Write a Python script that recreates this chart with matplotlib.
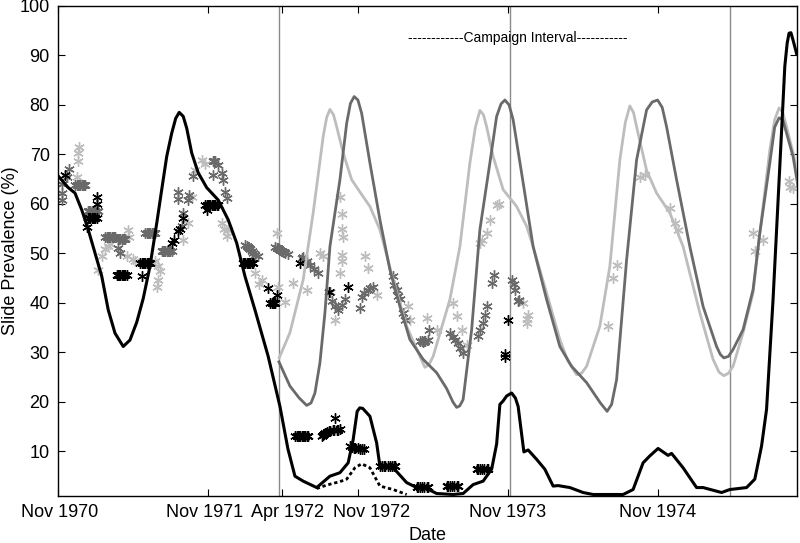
import matplotlib
matplotlib.use("Agg")
import matplotlib.pyplot as plt
import matplotlib.transforms as mtransforms
import numpy as np

plt.rcParams['font.family'] = ['Liberation Sans', 'DejaVu Sans']

# x in months since Nov 1970
tick_pos = [0, 12, 17.9, 24, 36, 48]
tick_labels = ['Nov 1970', 'Nov 1971', 'Apr 1972', 'Nov 1972', 'Nov 1973', 'Nov 1974']
campaign_lines = [17.7, 36.2, 53.8]

# model curve (black solid)
black_m = [0, 0.82, 1.36, 1.90, 2.42, 2.96, 3.50, 4.02, 4.56, 5.22, 5.76, 6.30, 6.82, 7.36,
           7.90, 8.30, 8.70, 9.10, 9.42, 9.70, 10.02, 10.30, 10.70, 11.22, 11.90, 12.82, 13.62,
           14.30, 14.96, 15.76, 16.82, 17.76, 18.40, 18.96, 19.62, 20.70, 21.76, 22.56, 23.22,
           23.62, 23.94, 24.15, 24.38, 24.96, 25.50, 25.76, 26.82, 27.90, 28.70, 29.50, 30.30, 31.62,
           32.42, 33.22, 34.02, 34.70, 35.10, 35.36, 35.62, 35.90, 36.30, 36.60, 36.82, 37.28, 37.62,
           38.30, 38.96, 39.62, 40.02, 40.96, 42.02, 42.82, 45.22, 46.02, 46.82, 47.36, 48.02,
           48.82, 49.10, 50.02, 51.10, 51.62, 53.10, 53.76, 55.10, 55.76, 56.30, 56.70, 57.22,
           57.76, 58.16, 58.35, 58.50, 58.65, 58.82, 59.10]
black_v = [65.7, 63.3, 62.2, 58.8, 54.8, 50.1, 45.4, 38.6, 33.9, 31.2, 32.5, 36.1, 40.9, 47.4,
           56.1, 62.9, 69.6, 74.3, 77.3, 78.5, 77.7, 75.3, 70.3, 66.3, 63.3, 60.8, 56.8,
           52.1, 45.4, 38.6, 29.2, 19.1, 10.5, 5.0, 4.0, 2.7, 5.0, 5.7, 7.7,
           12.4, 18.1, 18.8, 18.7, 17.1, 11.7, 7.0, 6.7, 3.7, 2.7, 2.5, 1.5, 1.3,
           1.5, 3.3, 4.0, 6.4, 11.5, 19.5, 20.2, 21.2, 21.8, 20.8, 19.1, 9.9, 10.3,
           8.4, 6.4, 3.0, 3.1, 2.7, 1.7, 1.3, 1.3, 2.3, 7.7, 9.1, 10.6,
           9.2, 9.6, 6.7, 2.7, 2.7, 1.7, 2.3, 2.7, 4.4, 11.1, 18.5, 40.7,
           67.6, 87.8, 92.5, 94.5, 94.6, 93.1, 90.4]

# black dotted curve
dot_m = [20.70, 21.50, 22.56, 23.10, 23.76, 24.30, 24.96, 25.76, 26.82, 27.90]
dot_v = [2.5, 3.2, 3.9, 4.4, 6.7, 7.5, 6.7, 3.0, 2.3, 1.3]

# light grey curve
light_m = [17.70, 18.56, 19.62, 20.42, 21.22, 21.50, 21.76, 22.05, 22.30, 22.82, 23.50, 24.30,
           24.96, 25.76, 26.82, 27.90, 28.96, 29.36, 29.70, 30.02, 31.36, 32.16, 32.96, 33.40,
           33.76, 34.05, 34.30, 34.82, 35.62, 36.70, 37.50, 38.02, 39.10, 40.16, 40.80, 41.50,
           41.90, 42.30, 43.36, 44.16, 44.96, 45.40, 45.76, 46.05, 46.30, 47.10, 47.90, 48.96,
           50.02, 51.36, 52.42, 52.90, 53.28, 53.65, 54.02, 54.82, 55.62, 56.16, 56.96, 57.35,
           57.70, 58.00, 58.30, 58.82, 59.22]
light_v = [28.9, 34.0, 44.7, 58.2, 73.6, 77.5, 79.1, 78.0, 75.6, 70.3, 64.9, 61.9,
           59.5, 54.8, 44.7, 35.3, 29.2, 27.0, 27.6, 29.2, 40.7, 51.4, 68.3, 75.5,
           78.9, 78.0, 75.6, 69.6, 62.9, 59.5, 55.5, 51.4, 42.0, 32.6, 28.3, 25.5,
           25.8, 27.2, 35.3, 47.4, 68.9, 76.5, 79.8, 78.5, 75.6, 66.8, 62.2, 58.2,
           51.4, 38.0, 28.6, 26.0, 25.3, 25.8, 27.2, 34.0, 42.0, 54.1, 70.9, 77.0,
           79.4, 78.5, 75.6, 70.3, 65.5]

# dark grey curve
dark_m = [17.68, 18.56, 19.30, 19.90, 20.25, 20.56, 20.96, 21.36, 21.76, 22.56, 23.10, 23.40,
          23.70, 24.00, 24.30, 24.96, 25.76, 26.56, 27.36, 28.16, 29.22, 30.30, 31.10, 31.60,
          31.90, 32.15, 32.42, 33.10, 33.76, 34.56, 35.10, 35.45, 35.76, 36.10, 36.42, 37.22,
          38.02, 39.10, 40.16, 41.10, 42.30, 43.40, 43.94, 44.30, 44.70, 45.50, 46.30, 47.10,
          47.55, 47.98, 48.35, 48.70, 49.50, 50.56, 51.62, 52.70, 53.00, 53.28, 53.65, 54.02,
          54.82, 55.62, 56.16, 56.96, 57.35, 57.70, 58.00, 58.30, 58.82, 59.22]
dark_v = [28.1, 23.2, 20.8, 19.3, 19.8, 21.8, 27.9, 38.0, 51.4, 64.9, 76.3, 80.3,
          81.7, 81.0, 78.3, 68.3, 56.8, 46.7, 39.3, 32.6, 28.6, 25.9, 22.7, 20.0,
          18.9, 19.2, 20.5, 34.6, 54.8, 68.3, 77.7, 80.2, 81.0, 80.0, 77.0, 64.3,
          51.4, 40.7, 31.2, 27.2, 23.9, 19.8, 18.1, 19.5, 24.5, 48.7, 68.9, 79.0,
          80.6, 81.0, 79.5, 75.6, 64.9, 51.4, 39.3, 31.2, 29.6, 28.9, 29.2, 30.6,
          34.6, 42.7, 54.1, 68.3, 75.5, 77.4, 77.0, 74.3, 69.6, 63.5]

# observed data (asterisks)
obs_black_m = [0.56, 2.3, 2.4, 2.5, 2.6, 2.7, 2.8, 2.9, 3.0, 3.1, 3.1, 3.1,
               4.7, 4.8, 4.9, 5.0, 5.1, 5.2, 5.3, 5.4, 5.5,
               6.6, 6.7, 6.8, 6.9, 7.0, 7.1, 7.2, 7.3, 7.4, 6.7,
               9.1, 9.3, 9.6, 9.8, 10.0,
               11.8, 11.9, 12.0, 12.1, 12.2, 12.3, 12.4, 12.5, 12.6, 12.7, 12.8, 11.9,
               14.8, 14.9, 15.0, 15.1, 15.2, 15.3, 15.4, 15.5, 15.6,
               16.8, 17.5, 17.0, 17.1, 17.2, 17.3, 17.4,
               19.0, 19.1, 19.2, 19.3, 19.4, 19.5, 19.6, 19.7, 19.8, 19.9, 20.0,
               21.1, 21.2, 21.3, 21.4, 21.5, 21.7, 21.8, 22.0, 22.1, 22.3, 22.4, 22.6, 22.2,
               23.4, 23.5, 23.7, 23.8, 24.0, 24.2, 24.3, 24.5,
               25.8, 25.9, 26.1, 26.2, 26.4, 26.6, 26.7, 26.9, 27.0,
               28.7, 28.8, 29.0, 29.1, 29.3, 29.5, 29.6,
               31.1, 31.2, 31.4, 31.5, 31.7, 31.9, 32.0,
               33.5, 33.6, 33.8, 33.9, 34.1, 34.3, 34.4,
               35.8, 35.8, 36.0, 19.4, 21.7, 23.2]
obs_black_v = [65.9, 55.4, 57.1, 57.1, 57.1, 57.1, 57.1, 57.1, 57.1, 57.1, 61.5, 60.0,
               45.7, 45.7, 45.7, 45.7, 45.7, 45.7, 45.7, 45.7, 45.7,
               48.1, 48.1, 48.1, 48.1, 48.1, 48.1, 48.1, 48.1, 48.1, 45.4,
               52.1, 52.8, 54.5, 55.0, 57.1,
               59.8, 59.8, 59.8, 59.8, 59.8, 59.8, 59.8, 59.8, 59.8, 59.8, 59.8, 58.8,
               48.0, 48.0, 48.0, 48.0, 48.0, 48.0, 48.0, 48.0, 48.0,
               43.0, 41.7, 39.9, 39.9, 39.9, 39.9, 39.9,
               13.1, 13.1, 13.1, 13.1, 13.1, 13.1, 13.1, 13.1, 13.1, 13.1, 13.1,
               13.1, 13.3, 13.6, 13.8, 14.0, 14.1, 14.2, 14.3, 14.4, 14.4, 14.4, 14.6, 16.8,
               11.0, 10.9, 10.7, 10.7, 10.6, 10.5, 10.5, 10.5,
               7.0, 7.0, 7.0, 7.0, 7.0, 7.0, 7.0, 7.0, 7.0,
               2.9, 2.9, 2.9, 2.9, 2.9, 2.9, 2.9,
               3.1, 3.1, 3.1, 3.1, 3.1, 3.1, 3.1,
               6.5, 6.5, 6.5, 6.5, 6.5, 6.5, 6.5,
               29.6, 29.0, 36.6, 48.1, 42.3, 43.3]

obs_dark_m = [0.3, 0.3, 0.3, 0.9, 0.7,
              1.4, 1.5, 1.6, 1.7, 1.8, 1.9, 2.0, 2.1, 2.2,
              2.4, 2.5, 2.6, 2.7, 2.8, 2.9, 3.0, 3.1, 3.2,
              3.8, 3.9, 4.0, 4.1, 4.2, 4.3, 4.4, 4.5, 4.6,
              4.8, 4.9, 5.0, 5.1, 5.2, 5.3, 5.4, 4.8, 5.0,
              7.0, 7.1, 7.2, 7.3, 7.4, 7.5, 7.6, 7.7, 7.8,
              8.3, 8.4, 8.5, 8.6, 8.7, 8.8, 8.9, 9.0, 9.1,
              9.6, 9.6, 10.0, 9.9, 10.4, 10.5, 10.8,
              12.4, 12.5, 12.6, 12.8, 13.1, 13.2, 13.4, 13.5, 12.4,
              15.0, 15.1, 15.2, 15.3, 15.4, 15.5, 15.6, 15.8, 16.0,
              17.4, 17.5, 17.6, 17.7, 17.8, 17.9, 18.0, 18.2, 18.4,
              19.5, 19.6, 19.9, 20.2, 20.5, 20.8,
              21.8, 21.9, 22.2, 22.4, 22.7, 23.0,
              24.2, 24.3, 24.5, 24.8, 25.0, 25.2,
              26.8, 26.9, 27.1, 27.2, 27.4, 27.6, 27.8,
              29.0, 29.1, 29.2, 29.3, 29.4, 29.6, 29.7,
              31.4, 31.6, 31.8, 32.0, 32.2, 32.4,
              33.6, 33.8, 34.0, 34.2, 34.3,
              34.7, 34.9,
              36.3, 36.5, 36.6, 36.8, 36.9]
obs_dark_v = [62.3, 60.8, 64.0, 67.0, 65.5,
              63.9, 63.9, 63.9, 63.9, 63.9, 63.9, 63.9, 63.9, 63.9,
              58.5, 58.5, 58.5, 58.5, 58.5, 58.5, 58.5, 58.5, 58.5,
              53.3, 53.3, 53.3, 53.3, 53.3, 53.3, 53.3, 53.3, 53.3,
              52.9, 52.9, 52.9, 52.9, 52.9, 52.9, 52.9, 51.1, 50.0,
              54.1, 54.1, 54.1, 54.1, 54.1, 54.1, 54.1, 54.1, 54.1,
              50.4, 50.4, 50.4, 50.4, 50.4, 50.4, 50.4, 50.4, 50.4,
              62.5, 60.9, 58.1, 55.6, 60.8, 61.9, 65.6,
              68.6, 68.6, 68.6, 67.8, 66.2, 64.9, 62.5, 61.2, 65.9,
              51.8, 51.6, 51.3, 51.0, 50.8, 50.4, 50.1, 49.7, 49.4,
              51.4, 51.2, 51.0, 50.8, 50.6, 50.4, 50.3, 50.1, 49.8,
              49.1, 49.3, 48.5, 47.6, 46.8, 46.0,
              42.3, 40.3, 39.3, 38.6, 39.5, 40.7,
              39.0, 41.3, 42.0, 42.7, 43.0, 43.3,
              45.4, 43.7, 42.7, 41.5, 40.7, 38.0, 36.6,
              32.4, 32.3, 32.2, 32.3, 32.4, 32.6, 34.5,
              33.9, 33.2, 32.5, 31.9, 30.9, 29.9,
              33.3, 34.6, 35.9, 37.5, 39.3,
              44.0, 45.7,
              44.7, 43.8, 42.7, 40.3, 40.5]

obs_light_m = [1.5, 1.6, 1.7, 1.6,
               3.2, 3.5, 3.8, 4.0, 4.2,
               5.5, 5.6, 5.7, 6.0, 6.2,
               7.8, 8.0, 8.0, 7.9, 8.2,
               10.0, 10.4, 10.7, 11.0, 11.5, 11.8,
               13.1, 13.6, 13.5, 13.3,
               15.8, 16.3, 16.1,
               17.5, 17.6, 18.2, 18.8, 19.9,
               21.0, 21.2, 22.2,
               22.6, 22.7, 22.7, 22.8, 22.7, 22.7, 22.6,
               24.6, 24.8, 25.5,
               28.0, 28.2, 29.5, 30.3,
               31.6, 31.9, 32.3, 32.7,
               33.9, 34.3, 33.8, 34.6, 35.1, 35.3,
               37.2, 37.6, 37.5, 37.5,
               44.4, 44.7, 44.0,
               47.0, 46.6,
               49.0, 49.4, 49.6,
               55.6, 55.8, 56.4,
               58.5, 58.6, 58.8]
obs_light_v = [65.5, 68.6, 71.6, 70.3,
               46.7, 49.4, 50.8, 51.6, 52.0,
               49.4, 54.8, 53.3, 48.8, 48.4,
               48.4, 47.4, 44.7, 43.3, 46.5,
               52.8, 56.1, 61.5, 66.9, 68.9, 68.0,
               56.1, 54.8, 53.5, 55.0,
               46.0, 44.7, 43.8,
               54.1, 43.3, 40.1, 44.0, 42.7,
               50.1, 49.5, 36.6,
               61.5, 58.0, 55.0, 53.4, 49.7, 48.4, 46.0,
               49.4, 47.1, 41.7,
               39.3, 36.6, 37.0, 34.6,
               40.0, 37.3, 34.6, 31.6,
               52.8, 54.1, 52.1, 56.8, 59.8, 60.0,
               40.0, 37.6, 36.7, 36.0,
               45.0, 47.7, 35.3,
               65.9, 65.5,
               59.2, 56.1, 54.8,
               54.1, 50.4, 52.8,
               64.6, 63.5, 63.2]

LIGHT = '#bdbdbd'
DARK = '#6a6a6a'

fig = plt.figure(figsize=(8, 5.43), dpi=100)
ax = fig.add_axes([0.0725, 0.0866, 0.9235, 0.9024])

ast = (6, 2, 0)
ms = 7.5
ax.plot(obs_light_m, obs_light_v, linestyle='none', marker=ast, ms=ms, mec=LIGHT, mfc=LIGHT, mew=1.0, zorder=2)
ax.plot(obs_dark_m, obs_dark_v, linestyle='none', marker=ast, ms=ms, mec=DARK, mfc=DARK, mew=1.0, zorder=2)
ax.plot(obs_black_m, obs_black_v, linestyle='none', marker=ast, ms=ms, mec='black', mfc='black', mew=1.0, zorder=2)

ax.plot(light_m, light_v, color=LIGHT, lw=2.0, zorder=3)
ax.plot(dark_m, dark_v, color=DARK, lw=2.0, zorder=3)
ax.plot(black_m, black_v, color='black', lw=2.2, zorder=4)
ax.plot(dot_m, dot_v, color='black', lw=2.0, linestyle=(0, (1.2, 1.0)), zorder=4)

for xv in campaign_lines:
    ax.axvline(xv, color='#8a8a8a', lw=1.0, zorder=1)

ax.text(36.8, 93.5, '------------Campaign Interval-----------', ha='center', va='center', fontsize=10)

ax.set_xlim(0, 59.12)
ax.set_ylim(1, 100)
ax.set_xticks(tick_pos)
ax.set_xticklabels(tick_labels)
ax.set_yticks(np.arange(10, 101, 10))
ax.tick_params(direction='in', top=True, right=True, labelsize=13, length=5, width=0.8, pad=6)
ax.set_xlabel('Date', fontsize=13, labelpad=4)
ax.set_ylabel('Slide Prevalence (%)', fontsize=13)
ax.yaxis.set_label_coords(-0.053, 0.5)
for s in ax.spines.values():
    s.set_linewidth(1.0)

# label offsets (pixels) as in the original layout
label_shift = [2, -3.5, 5.5, 14, 0, 0]
for lab, dx in zip(ax.get_xticklabels(), label_shift):
    lab.set_transform(lab.get_transform() + mtransforms.ScaledTranslation(dx / 100, 0, fig.dpi_scale_trans))

fig.savefig('out.png', dpi=100)
